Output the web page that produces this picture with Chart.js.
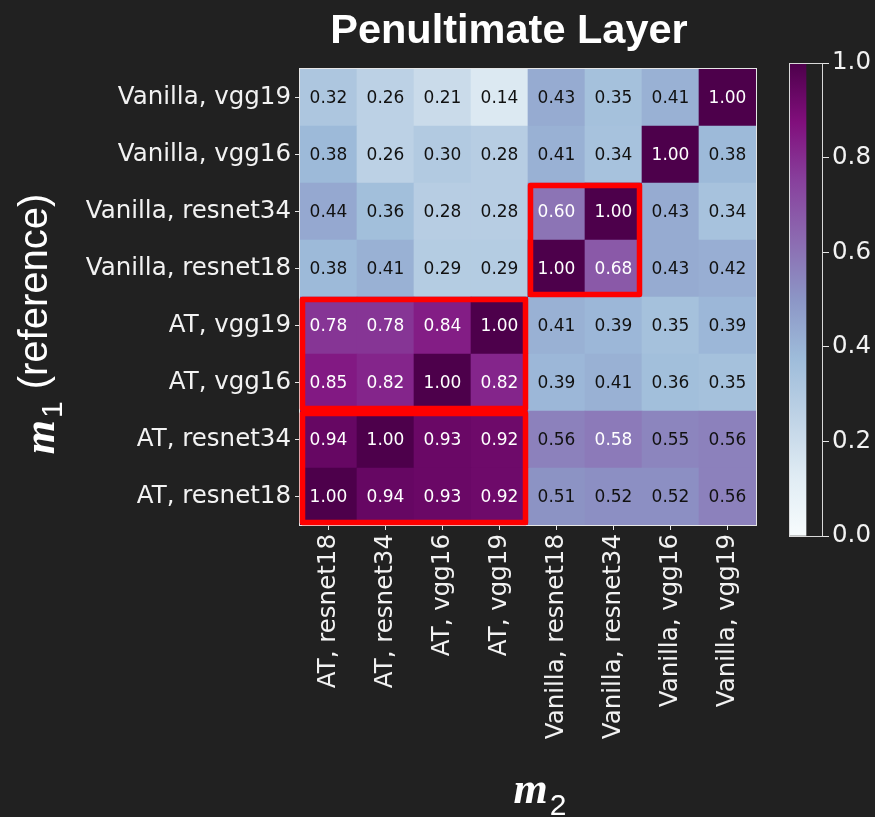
<!DOCTYPE html>
<html>
<head>
<meta charset="utf-8">
<title>Penultimate Layer</title>
<script src="https://cdn.jsdelivr.net/npm/chart.js@4/dist/chart.umd.min.js"></script>
<style>
  html, body { margin: 0; padding: 0; background: #212121; overflow: hidden; }
  #wrap { position: relative; width: 875px; height: 817px; }
  #main { position: absolute; left: 0; top: 0; }
  #cbar { position: absolute; left: 779px; top: 0; }
</style>
</head>
<body>
<div id="wrap">
  <canvas id="main" width="875" height="817"></canvas>
  <canvas id="cbar" width="96" height="817"></canvas>
</div>
<script>
// Models compared along m2 (columns, left to right)
const colLabels = ['AT, resnet18', 'AT, resnet34', 'AT, vgg16', 'AT, vgg19',
                   'Vanilla, resnet18', 'Vanilla, resnet34', 'Vanilla, vgg16', 'Vanilla, vgg19'];
// Reference models m1 (rows, bottom to top)
const rowLabels = ['AT, resnet18', 'AT, resnet34', 'AT, vgg16', 'AT, vgg19',
                   'Vanilla, resnet18', 'Vanilla, resnet34', 'Vanilla, vgg16', 'Vanilla, vgg19'];

// Similarity of each reference model against every m2 model
const atResnet18      = [1.00, 0.94, 0.93, 0.92, 0.51, 0.52, 0.52, 0.56];
const atResnet34      = [0.94, 1.00, 0.93, 0.92, 0.56, 0.58, 0.55, 0.56];
const atVgg16         = [0.85, 0.82, 1.00, 0.82, 0.39, 0.41, 0.36, 0.35];
const atVgg19         = [0.78, 0.78, 0.84, 1.00, 0.41, 0.39, 0.35, 0.39];
const vanillaResnet18 = [0.38, 0.41, 0.29, 0.29, 1.00, 0.68, 0.43, 0.42];
const vanillaResnet34 = [0.44, 0.36, 0.28, 0.28, 0.60, 1.00, 0.43, 0.34];
const vanillaVgg16    = [0.38, 0.26, 0.30, 0.28, 0.41, 0.34, 1.00, 0.38];
const vanillaVgg19    = [0.32, 0.26, 0.21, 0.14, 0.43, 0.35, 0.41, 1.00];
const rowValues = [atResnet18, atResnet34, atVgg16, atVgg19,
                   vanillaResnet18, vanillaResnet34, vanillaVgg16, vanillaVgg19];

// Colour bar ticks
const cbarTicks = [0.0, 0.2, 0.4, 0.6, 0.8, 1.0];

// Highlighted groups: row range and column range (inclusive indices)
const groupBoxes = [
  { rows: [2, 3], cols: [0, 3] },
  { rows: [0, 1], cols: [0, 3] },
  { rows: [4, 5], cols: [4, 5] }
];

// BuPu colour map
const bupuStops = ['#f7fcfd', '#e0ecf4', '#bfd3e6', '#9ebcda', '#8c96c6',
                   '#8c6bb1', '#88419d', '#810f7c', '#4d004b'];
function hexRgb(h) {
  return [parseInt(h.slice(1, 3), 16), parseInt(h.slice(3, 5), 16), parseInt(h.slice(5, 7), 16)];
}
const bupuRgb = bupuStops.map(hexRgb);
function bupu(v) {
  const n = bupuRgb.length;
  const t = Math.min(1, Math.max(0, v)) * (n - 1);
  const i = Math.min(n - 2, Math.floor(t));
  const f = t - i;
  const a = bupuRgb[i], b = bupuRgb[i + 1];
  const c = a.map((x, k) => Math.round(x + (b[k] - x) * f));
  return `rgb(${c[0]},${c[1]},${c[2]})`;
}

const BG = '#212121';
const FG = '#f2f2f2';
const TICK_FONT = { family: "'DejaVu Sans'", size: 24.5 };

Chart.defaults.devicePixelRatio = 1;

const datasets = rowValues.map((vals, r) => ({
  label: rowLabels[r],
  data: colLabels.map(() => [r, r + 1]),
  values: vals,
  backgroundColor: vals.map(bupu),
  borderWidth: 0,
  barPercentage: 1,
  categoryPercentage: 1,
  grouped: false
}));

const backgroundPlugin = {
  id: 'bg',
  beforeDraw(chart) {
    const ctx = chart.ctx;
    ctx.save();
    ctx.fillStyle = BG;
    ctx.fillRect(0, 0, chart.width, chart.height);
    ctx.restore();
  }
};

const cellTextPlugin = {
  id: 'cellText',
  afterDatasetsDraw(chart) {
    const ctx = chart.ctx;
    ctx.save();
    ctx.font = "17px 'DejaVu Sans'";
    ctx.textAlign = 'center';
    ctx.textBaseline = 'middle';
    chart.data.datasets.forEach((ds, di) => {
      chart.getDatasetMeta(di).data.forEach((el, j) => {
        const v = ds.values[j];
        const p = el.getCenterPoint();
        ctx.fillStyle = v > 0.57 ? '#ffffff' : '#111111';
        ctx.fillText(v.toFixed(2), p.x, p.y + 1);
      });
    });
    ctx.restore();
  }
};

const frameAndBoxesPlugin = {
  id: 'frameBoxes',
  afterDraw(chart) {
    const ctx = chart.ctx;
    const a = chart.chartArea;
    const xs = chart.scales.x, ys = chart.scales.y;
    ctx.save();
    ctx.strokeStyle = '#e6e6e6';
    ctx.lineWidth = 1;
    ctx.strokeRect(a.left - 0.5, a.top - 0.5, a.right - a.left + 1, a.bottom - a.top + 1);
    ctx.strokeStyle = '#ff0000';
    ctx.lineWidth = 5.5;
    ctx.lineJoin = 'round';
    const inset = 2.5;
    groupBoxes.forEach(b => {
      const x0 = xs.getPixelForValue(b.cols[0] - 0.5) + inset;
      const x1 = xs.getPixelForValue(b.cols[1] + 0.5) - inset;
      const y0 = ys.getPixelForValue(b.rows[1] + 1) + inset;
      const y1 = ys.getPixelForValue(b.rows[0]) - inset;
      ctx.strokeRect(x0, y0, x1 - x0, y1 - y0);
    });
    ctx.restore();
  }
};

function drawMathLabel(ctx, parts) {
  // parts: [{text, font, dy}], drawn along a shared baseline, centred on origin
  let total = 0;
  parts.forEach(p => { ctx.font = p.font; p.w = ctx.measureText(p.text).width; total += p.w + (p.gap || 0); });
  let x = -total / 2;
  parts.forEach(p => {
    ctx.font = p.font;
    ctx.fillText(p.text, x, p.dy || 0);
    x += p.w + (p.gap || 0);
  });
}

const titlesPlugin = {
  id: 'titles',
  afterDraw(chart) {
    const ctx = chart.ctx;
    const a = chart.chartArea;
    ctx.save();
    ctx.fillStyle = '#ffffff';
    ctx.textBaseline = 'alphabetic';
    ctx.textAlign = 'left';

    // chart heading
    ctx.font = "bold 41.5px 'Liberation Sans'";
    const heading = 'Penultimate Layer';
    const hw = ctx.measureText(heading).width;
    const hx = (a.left + a.right) / 2 - 19;
    ctx.fillText(heading, hx - hw / 2, 43);

    // x axis title: m2
    ctx.save();
    ctx.translate((a.left + a.right) / 2 + 12, 803);
    drawMathLabel(ctx, [
      { text: 'm', font: "italic bold 44px 'Liberation Serif'", gap: 2 },
      { text: '2', font: "30px 'Liberation Sans'", dy: 12 }
    ]);
    ctx.restore();

    // y axis title: m1 (reference)
    ctx.save();
    ctx.translate(50, (a.top + a.bottom) / 2 + 27);
    ctx.rotate(-Math.PI / 2);
    drawMathLabel(ctx, [
      { text: 'm', font: "italic bold 44px 'Liberation Serif'", gap: 2, dy: 4 },
      { text: '1', font: "30px 'Liberation Sans'", dy: 12, gap: 12 },
      { text: '(reference)', font: "40px 'Liberation Sans'", dy: -3 }
    ]);
    ctx.restore();
    ctx.restore();
  }
};

new Chart(document.getElementById('main'), {
  type: 'bar',
  data: { labels: colLabels, datasets },
  options: {
    responsive: false,
    animation: false,
    events: [],
    layout: { padding: { top: 69, right: 119, left: 0, bottom: 0 } },
    plugins: { legend: { display: false }, title: { display: false }, tooltip: { enabled: false } },
    scales: {
      x: {
        type: 'category',
        offset: true,
        grid: { offset: false, drawOnChartArea: false, tickLength: 5, color: '#e6e6e6', tickWidth: 1 },
        border: { display: false },
        ticks: { color: FG, font: TICK_FONT, minRotation: 90, maxRotation: 90, autoSkip: false, padding: 4 },
        afterFit(s) { s.height = 292; }
      },
      y: {
        type: 'linear',
        min: 0,
        max: rowLabels.length,
        grid: { drawOnChartArea: false, tickLength: 5, color: '#e6e6e6', tickWidth: 1 },
        border: { display: false },
        afterBuildTicks(s) { s.ticks = rowLabels.map((_, i) => ({ value: i + 0.5 })); },
        ticks: {
          color: FG, font: TICK_FONT, autoSkip: false, padding: 4,
          callback: v => rowLabels[Math.floor(v)]
        },
        afterFit(s) { s.width = 300; }
      }
    }
  },
  plugins: [backgroundPlugin, cellTextPlugin, frameAndBoxesPlugin, titlesPlugin]
});

// Colour bar
const cbarOutline = {
  id: 'cbarOutline',
  afterDatasetsDraw(chart) {
    const a = chart.chartArea;
    const ctx = chart.ctx;
    ctx.save();
    ctx.strokeStyle = '#d9d9d9';
    ctx.lineWidth = 1;
    ctx.strokeRect(a.left + 0.5, a.top + 0.5, a.right - a.left - 1, a.bottom - a.top);
    ctx.restore();
  }
};

new Chart(document.getElementById('cbar'), {
  type: 'bar',
  data: {
    labels: [''],
    datasets: [{
      data: [[cbarTicks[0], cbarTicks[cbarTicks.length - 1]]],
      borderWidth: 0,
      barPercentage: 1,
      categoryPercentage: 1,
      backgroundColor(ctx) {
        const a = ctx.chart.chartArea;
        if (!a) return null;
        const g = ctx.chart.ctx.createLinearGradient(0, a.bottom, 0, a.top);
        bupuStops.forEach((c, i) => g.addColorStop(i / (bupuStops.length - 1), c));
        return g;
      }
    }]
  },
  options: {
    responsive: false,
    animation: false,
    events: [],
    layout: { padding: { top: 63, bottom: 281, left: 10, right: 0 } },
    plugins: { legend: { display: false }, title: { display: false }, tooltip: { enabled: false } },
    scales: {
      x: { display: false, offset: false },
      y: {
        position: 'right',
        min: cbarTicks[0],
        max: cbarTicks[cbarTicks.length - 1],
        afterBuildTicks(s) { s.ticks = cbarTicks.map(v => ({ value: v })); },
        grid: { drawOnChartArea: false, tickLength: 6, color: '#e6e6e6' },
        border: { display: false },
        ticks: { color: FG, font: TICK_FONT, padding: 3, callback: v => v.toFixed(1) },
        afterFit(s) { s.width = 52; }
      }
    }
  },
  plugins: [cbarOutline]
});
</script>
</body>
</html>
